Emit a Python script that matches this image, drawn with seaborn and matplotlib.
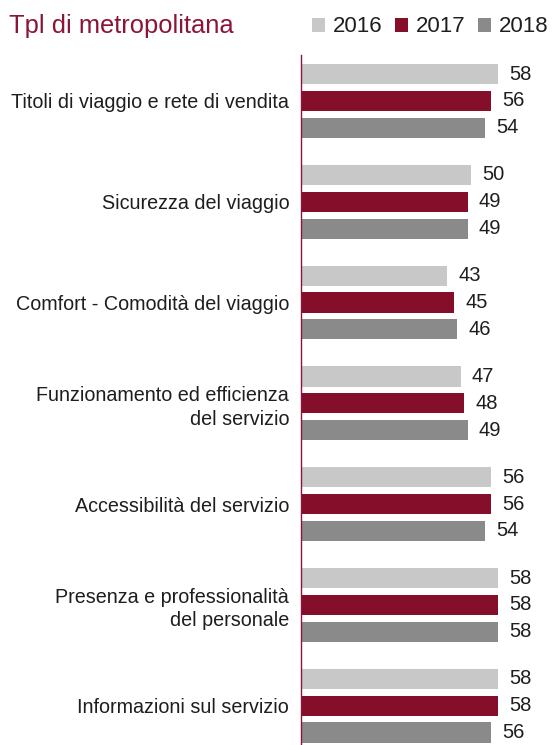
import matplotlib
matplotlib.use("Agg")
import matplotlib.pyplot as plt
from matplotlib.patches import Patch
import seaborn as sns
import pandas as pd

categories = [
    "Titoli di viaggio e rete di vendita",
    "Sicurezza del viaggio",
    "Comfort - Comodità del viaggio",
    "Funzionamento ed efficienza\ndel servizio",
    "Accessibilità del servizio",
    "Presenza e professionalità\ndel personale",
    "Informazioni sul servizio",
]
years = ["2016", "2017", "2018"]
values_2016 = [58, 50, 43, 47, 56, 58, 58]
values_2017 = [56, 49, 45, 48, 56, 58, 58]
values_2018 = [54, 49, 46, 49, 54, 58, 56]

colors = {"2016": "#C8C8C8", "2017": "#850E2A", "2018": "#8A8A8A"}
title_color = "#8A1538"
text_color = "#1E1E1E"

df = pd.DataFrame({
    "categoria": categories * 3,
    "anno": [y for y in years for _ in categories],
    "valore": values_2016 + values_2017 + values_2018,
})

sns.set_theme(style="white")
plt.rcParams["font.family"] = ["Liberation Sans", "DejaVu Sans"]

fig = plt.figure(figsize=(5.52, 7.45), dpi=100)
ax = fig.add_axes([301 / 552, 0.0, 251 / 552, 1 - 55 / 745])

sns.barplot(
    data=df, y="categoria", x="valore", hue="anno",
    order=categories, hue_order=years, palette=colors, saturation=1,
    orient="h", width=0.8, gap=0.25, legend=False, ax=ax,
    linewidth=0,
)

ax.set_xlim(0, 73.8)
ax.set_ylim(6.39, -0.456)
ax.set_xlabel("")
ax.set_ylabel("")
ax.set_xticks([])
ax.tick_params(axis="y", length=0, pad=8.5, labelsize=14.2, labelcolor=text_color)
for lbl in ax.get_yticklabels():
    lbl.set_horizontalalignment("right")
    lbl.set_multialignment("right")
    lbl.set_linespacing(1.3)
for side in ["top", "right", "bottom"]:
    ax.spines[side].set_visible(False)
ax.spines["left"].set_color(title_color)
ax.spines["left"].set_linewidth(1.0)

for container in ax.containers:
    ax.bar_label(container, fmt="%d", padding=8, fontsize=14.5, color=text_color)

fig.text(9 / 552, 1 - 33 / 745, "Tpl di metropolitana", fontsize=18.4,
         color=title_color, va="baseline", ha="left")

handles = [Patch(facecolor=colors[y], edgecolor="none", label=y) for y in years]
fig.legend(handles=handles, loc="center right", bbox_to_anchor=(549 / 552, 1 - 27 / 745),
           ncol=3, frameon=False, fontsize=16, handlelength=0.6, handleheight=0.6,
           handletextpad=0.36, columnspacing=0.55, borderaxespad=0, borderpad=0,
           labelcolor=text_color)

fig.savefig("out.png", dpi=100)
